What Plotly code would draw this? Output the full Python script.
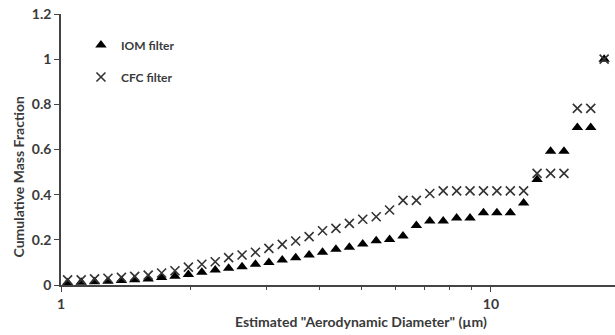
import plotly.graph_objects as go

diameter = [1.036, 1.114, 1.197, 1.286, 1.382, 1.484, 1.595, 1.714, 1.841, 1.978,
            2.126, 2.284, 2.454, 2.637, 2.833, 3.044, 3.270, 3.514, 3.776, 4.057,
            4.359, 4.684, 5.032, 5.408, 5.810, 6.243, 6.706, 7.206, 7.743, 8.320,
            8.939, 9.605, 10.32, 11.09, 11.91, 12.80, 13.76, 14.78, 15.88, 17.06,
            18.33, 19.70]

iom = [0.010, 0.012, 0.014, 0.017, 0.020, 0.023, 0.027, 0.033, 0.039, 0.047,
       0.056, 0.066, 0.074, 0.081, 0.092, 0.100, 0.111, 0.121, 0.133, 0.145,
       0.158, 0.167, 0.181, 0.196, 0.202, 0.217, 0.264, 0.283, 0.283, 0.297,
       0.297, 0.320, 0.320, 0.320, 0.363, 0.467, 0.592, 0.592, 0.697, 0.697,
       1.000, 1.000]

cfc = [0.023, 0.023, 0.027, 0.030, 0.034, 0.038, 0.044, 0.053, 0.063, 0.079,
       0.092, 0.103, 0.121, 0.133, 0.145, 0.162, 0.180, 0.195, 0.214, 0.240,
       0.251, 0.273, 0.291, 0.302, 0.332, 0.375, 0.375, 0.405, 0.417, 0.417,
       0.417, 0.417, 0.417, 0.417, 0.417, 0.494, 0.494, 0.494, 0.782, 0.782,
       1.000, 1.000]

y_ticks = [0, 0.2, 0.4, 0.6, 0.8, 1.0, 1.2]
y_ticklabels = ["0", "0.2", "0.4", "0.6", "0.8", "1", "1.2"]
x_ticks = [1, 10]
x_ticklabels = ["1", "10"]
x_minor = [2, 3, 4, 5, 6, 7, 8, 9]

FONT = "Lato, 'Open Sans', sans-serif"
TXT = "#3a3a3a"
AX = "#444"

fig = go.Figure()
fig.add_trace(go.Scatter(
    x=diameter, y=iom, mode="markers", name="<b>IOM filter</b>",
    marker=dict(symbol="triangle-up", size=10, color="black"),
    cliponaxis=False, legend="legend", showlegend=True))
fig.add_trace(go.Scatter(
    x=diameter, y=cfc, mode="markers", name="<b>CFC filter</b>",
    marker=dict(symbol="x-thin-open", size=9, color="#333", line=dict(width=1.6, color="#333")),
    cliponaxis=False, legend="legend2", showlegend=True))

fig.update_layout(
    width=615, height=335,
    margin=dict(l=61, r=0, t=14, b=50, autoexpand=False),
    paper_bgcolor="white", plot_bgcolor="white",
    showlegend=True,
    font=dict(family=FONT, size=12, color=TXT),
    legend=dict(x=0.036, y=0.886, xanchor="left", yanchor="middle",
                bgcolor="rgba(0,0,0,0)", font=dict(size=12, color=TXT),
                itemwidth=30, visible=True),
    legend2=dict(x=0.036, y=0.7675, xanchor="left", yanchor="middle",
                 bgcolor="rgba(0,0,0,0)", font=dict(size=12, color=TXT),
                 itemwidth=30, visible=True),
    xaxis=dict(type="log", range=[0, 1.2884], showgrid=False, zeroline=False,
               showline=True, linecolor=AX, linewidth=1.5,
               tickmode="array", tickvals=x_ticks,
               ticktext=["<b>%s</b>" % t for t in x_ticklabels],
               ticks="outside", ticklen=5, tickwidth=1.3, tickcolor=AX,
               tickfont=dict(size=14, color=TXT, family=FONT),
               minor=dict(tickmode="array", tickvals=x_minor, ticks="outside",
                          ticklen=3, tickwidth=1, tickcolor=AX, showgrid=False)),
    yaxis=dict(range=[0, 1.2], showgrid=False, zeroline=False,
               showline=True, linecolor=AX, linewidth=1.5,
               tickmode="array", tickvals=y_ticks,
               ticktext=["<b>%s</b>" % t for t in y_ticklabels],
               ticklabeloverflow="allow",
               ticks="outside", ticklen=5, tickwidth=1.3, tickcolor=AX,
               tickfont=dict(size=14, color=TXT, family=FONT)),
)

fig.add_annotation(text="<b>Estimated \"Aerodynamic Diameter\" (µm)</b>",
                   xref="paper", yref="paper", x=0.5415, y=-0.1365,
                   xanchor="center", yanchor="middle", showarrow=False,
                   font=dict(size=14, color=TXT, family=FONT))
fig.add_annotation(text="<b>Cumulative Mass Fraction</b>",
                   xref="paper", yref="paper", x=-0.0785, y=0.3985,
                   xanchor="center", yanchor="middle", showarrow=False, textangle=-90,
                   font=dict(size=14, color=TXT, family=FONT))

fig.write_html("out.html",
               config={"displayModeBar": False},
               post_script="document.body.style.margin='0';document.body.style.overflow='hidden';")
